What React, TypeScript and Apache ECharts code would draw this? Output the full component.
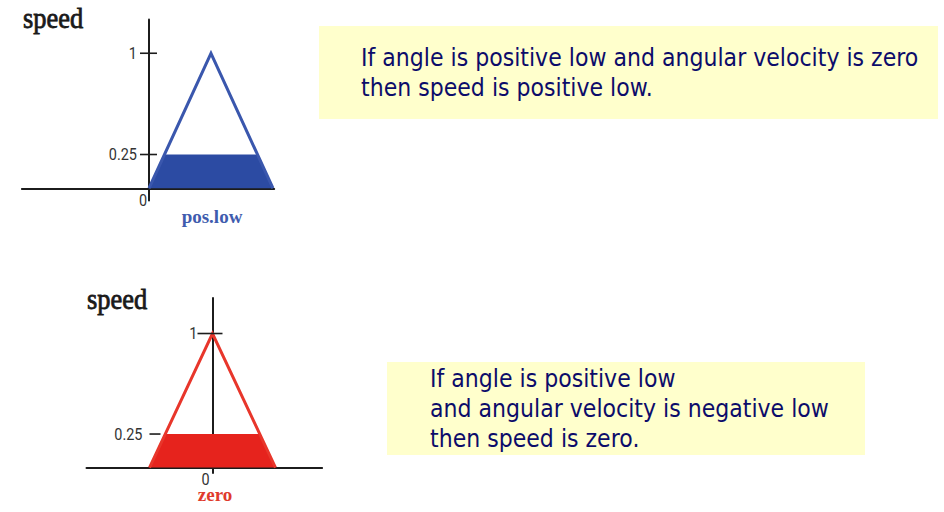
import { useEffect, useRef } from "react";
import * as echarts from "echarts";

// Membership functions of the output variable "speed"
const speedTicks = [0.25, 1];
const originLabel = "0";
const posLowTriangle: [number, number][] = [
  [0, 0],
  [1, 1],
  [2, 0],
];
const zeroTriangle: [number, number][] = [
  [-1, 0],
  [0, 1],
  [1, 0],
];
// Firing strength of each rule (clip level of the consequent set)
const posLowLevel = 0.25;
const zeroLevel = 0.25;

const axisTitle = "speed";
const posLowName = "pos.low";
const zeroName = "zero";
const rule1Lines = [
  "If angle is positive low and angular velocity is zero",
  "then speed is positive low.",
];
const rule2Lines = [
  "If angle is positive low",
  "and angular velocity is negative low",
  "then speed is zero.",
];

const BLUE_LINE = "#3a57ad";
const BLUE_FILL = "#2c4ba3";
const RED_LINE = "#e8362b";
const RED_FILL = "#e6231d";
const AXIS = "#1c1c1c";
const NAVY = "#0c0c6a";
const NOTE_BG = "#ffffcc";

// Trapezoid left after clipping a triangle at the given membership level
function clipTriangle(tri: [number, number][], level: number): [number, number][] {
  const [[a], [b], [c]] = tri;
  return [
    [a, 0],
    [a + (b - a) * level, level],
    [c - (c - b) * level, level],
    [c, 0],
  ];
}

type TickLayout = { from: number; to: number; labelRight: number };

function tickRenderer(layout: (v: number) => TickLayout, zeroDx: number, zeroDy: number) {
  return (params: any, api: any) => {
    const v = api.value(1);
    const p = api.coord([0, v]);
    const l = layout(v);
    const children: any[] = [
      {
        type: "line",
        shape: { x1: p[0] + l.from, y1: p[1], x2: p[0] + l.to, y2: p[1] },
        style: { stroke: AXIS, lineWidth: 1.6 },
      },
      {
        type: "text",
        x: p[0] + l.labelRight,
        y: p[1],
        scaleX: 0.85,
        style: {
          text: String(v),
          font: "17px Roboto, sans-serif",
          fill: "#333",
          textAlign: "right",
          textVerticalAlign: "middle",
        },
      },
    ];
    if (params.dataIndex === 0) {
      const o = api.coord([0, 0]);
      children.push({
        type: "text",
        x: o[0] + zeroDx,
        y: o[1] + zeroDy,
        scaleX: 0.85,
        style: {
          text: originLabel,
          font: "17px Roboto, sans-serif",
          fill: "#333",
          textAlign: "center",
          textVerticalAlign: "middle",
        },
      });
    }
    return { type: "group", children };
  };
}

function valueAxis(gridIndex: number, min: number, max: number) {
  return {
    type: "value",
    gridIndex,
    min,
    max,
    axisLine: { show: true, onZero: true, lineStyle: { color: AXIS, width: 2 } },
    axisTick: { show: false },
    axisLabel: { show: false },
    splitLine: { show: false },
  };
}

function noteGraphic(x: number, y: number, w: number, h: number, textX: number, firstY: number, lines: string[]) {
  return {
    type: "group",
    children: [
      { type: "rect", shape: { x, y, width: w, height: h }, style: { fill: NOTE_BG } },
      ...lines.map((line, i) => ({
        type: "text",
        x: textX,
        y: firstY + i * 30,
        scaleX: 0.92,
        style: {
          text: line,
          font: "24px 'DejaVu Sans', sans-serif",
          fill: NAVY,
          textAlign: "left",
          textVerticalAlign: "middle",
        },
      })),
    ],
  };
}

function titleGraphic(x: number, y: number) {
  return {
    type: "text",
    x,
    y,
    scaleX: 0.91,
    style: {
      text: axisTitle,
      font: "29px 'Liberation Serif', serif",
      fill: "#1a1a1a",
      stroke: "#1a1a1a",
      lineWidth: 0.8,
      textVerticalAlign: "middle",
    },
  };
}

export default function App() {
  const ref = useRef<HTMLDivElement>(null);

  useEffect(() => {
    if (!ref.current) return;
    const chart = echarts.init(ref.current, undefined, { renderer: "svg" });

    const option: any = {
      animation: false,
      backgroundColor: "#ffffff",
      grid: [
        { left: 21.9, top: 19.5, width: 252.3, height: 180.9 },
        { left: 86.5, top: 298, width: 235.6, height: 174.9 },
      ],
      xAxis: [valueAxis(0, -2.05, 2.02), valueAxis(1, -2, 1.74)],
      yAxis: [valueAxis(0, -0.09, 1.25), valueAxis(1, -0.04, 1.265)],
      series: [
        {
          type: "line",
          xAxisIndex: 0,
          yAxisIndex: 0,
          data: clipTriangle(posLowTriangle, posLowLevel),
          symbol: "none",
          lineStyle: { width: 0 },
          areaStyle: { color: BLUE_FILL, opacity: 1 },
          silent: true,
          z: 1,
        },
        {
          type: "line",
          xAxisIndex: 0,
          yAxisIndex: 0,
          data: posLowTriangle,
          symbol: "none",
          lineStyle: { color: BLUE_LINE, width: 3, join: "miter" },
          silent: true,
          z: 2,
        },
        {
          type: "line",
          xAxisIndex: 1,
          yAxisIndex: 1,
          data: clipTriangle(zeroTriangle, zeroLevel),
          symbol: "none",
          lineStyle: { width: 0 },
          areaStyle: { color: RED_FILL, opacity: 1 },
          silent: true,
          z: 1,
        },
        {
          type: "line",
          xAxisIndex: 1,
          yAxisIndex: 1,
          data: zeroTriangle,
          symbol: "none",
          lineStyle: { color: RED_LINE, width: 3, join: "miter" },
          silent: true,
          z: 2,
        },
        {
          type: "custom",
          xAxisIndex: 0,
          yAxisIndex: 0,
          clip: false,
          silent: true,
          z: 5,
          data: speedTicks.map((v) => [0, v]),
          renderItem: tickRenderer(() => ({ from: -9, to: 8, labelRight: -12 }), -6, 12),
        },
        {
          type: "custom",
          xAxisIndex: 1,
          yAxisIndex: 1,
          clip: false,
          silent: true,
          z: 5,
          data: speedTicks.map((v) => [0, v]),
          renderItem: tickRenderer(
            (v) =>
              v === 1
                ? { from: -15, to: 10, labelRight: -15 }
                : { from: -63, to: -52, labelRight: -70 },
            -7,
            12
          ),
        },
      ],
      graphic: [
        titleGraphic(23, 18),
        titleGraphic(87, 299),
        {
          type: "text",
          x: 212,
          y: 216,
          style: {
            text: posLowName,
            font: "bold 19px 'Liberation Serif', serif",
            fill: "#3f5cae",
            textAlign: "center",
            textVerticalAlign: "middle",
          },
        },
        {
          type: "text",
          x: 215,
          y: 494,
          style: {
            text: zeroName,
            font: "bold 19px 'Liberation Serif', serif",
            fill: "#e03a2c",
            textAlign: "center",
            textVerticalAlign: "middle",
          },
        },
        noteGraphic(319, 26, 619, 93, 361, 58, rule1Lines),
        noteGraphic(387, 362, 478, 93, 430, 379, rule2Lines),
      ],
    };

    chart.setOption(option);
    return () => chart.dispose();
  }, []);

  return (
    <div
      ref={ref}
      style={{ position: "absolute", left: 0, top: 0, width: 944, height: 512 }}
    />
  );
}
